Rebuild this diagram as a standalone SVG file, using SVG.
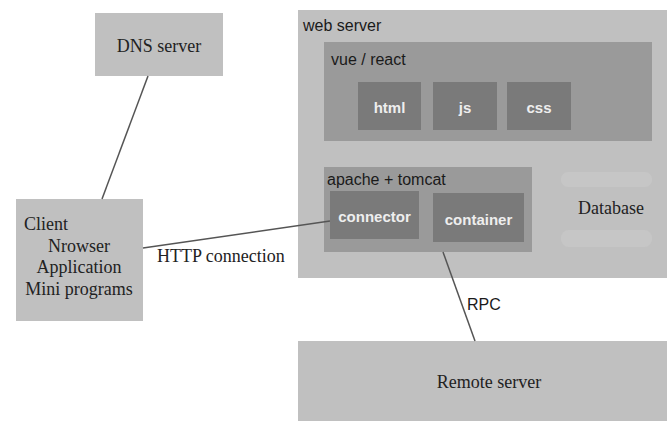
<svg xmlns="http://www.w3.org/2000/svg" width="667" height="421" viewBox="0 0 667 421">
<style>
.box{fill:#c0c0c0}
.mid{fill:#9a9a9a}
.dark{fill:#7a7a7a}
.serif{font-family:"Liberation Serif","Times New Roman",serif;font-size:18px;fill:#222}
.sans{font-family:"Liberation Sans",Arial,sans-serif;font-size:16px;fill:#1a1a1a}
.inner{font-family:"Liberation Sans",Arial,sans-serif;font-size:15px;font-weight:bold;fill:#eeeeee;text-anchor:middle}
.line{stroke:#555;stroke-width:1.5;fill:none}
.db{fill:#c6c6c6}
</style>
<rect width="667" height="421" fill="#ffffff"/>
<g id="dns">
<rect class="box" x="95" y="13" width="128" height="63"/>
<text class="serif" x="159" y="52" text-anchor="middle">DNS server</text>
</g>
<g id="client">
<rect class="box" x="16" y="199" width="127" height="122"/>
<text class="serif" x="24" y="230">Client</text>
<text class="serif" x="79" y="252" text-anchor="middle">Nrowser</text>
<text class="serif" x="79" y="273" text-anchor="middle">Application</text>
<text class="serif" x="79" y="295" text-anchor="middle">Mini programs</text>
</g>
<g id="web-server">
<rect class="box" x="298" y="10" width="369" height="268"/>
<text class="sans" x="303" y="31">web server</text>
</g>
<g id="vue-react">
<rect class="mid" x="324" y="42" width="328" height="99"/>
<text class="sans" x="331" y="65">vue / react</text>
</g>
<g id="html">
<rect class="dark" x="358" y="82" width="63" height="48"/>
<text class="inner" x="389.5" y="113">html</text>
</g>
<g id="js">
<rect class="dark" x="433" y="82" width="64" height="48"/>
<text class="inner" x="465" y="113">js</text>
</g>
<g id="css">
<rect class="dark" x="507" y="82" width="64" height="48"/>
<text class="inner" x="539" y="113">css</text>
</g>
<g id="apache-tomcat">
<rect class="mid" x="324" y="167" width="208" height="85"/>
<text class="sans" x="327" y="185">apache + tomcat</text>
</g>
<g id="connector">
<rect class="dark" x="330" y="191" width="89" height="48"/>
<text class="inner" x="374.5" y="222">connector</text>
</g>
<g id="container">
<rect class="dark" x="433" y="193" width="91" height="49"/>
<text class="inner" x="478.5" y="225">container</text>
</g>
<g id="database">
<rect class="db" x="561" y="172" width="91" height="15" rx="7"/>
<rect class="db" x="561" y="230" width="91" height="17" rx="8"/>
<text class="serif" x="611" y="214" text-anchor="middle">Database</text>
</g>
<g id="remote-server">
<rect class="box" x="298" y="341" width="369" height="80"/>
<text class="serif" x="489" y="388" text-anchor="middle">Remote server</text>
</g>
<g id="connectors">
<line class="line" x1="148" y1="76" x2="102" y2="199"/>
<line class="line" x1="143" y1="248" x2="330" y2="221"/>
<line class="line" x1="443" y1="252" x2="475" y2="341"/>
<text class="serif" x="157" y="262">HTTP connection</text>
<text class="sans" x="467" y="310">RPC</text>
</g>
</svg>
